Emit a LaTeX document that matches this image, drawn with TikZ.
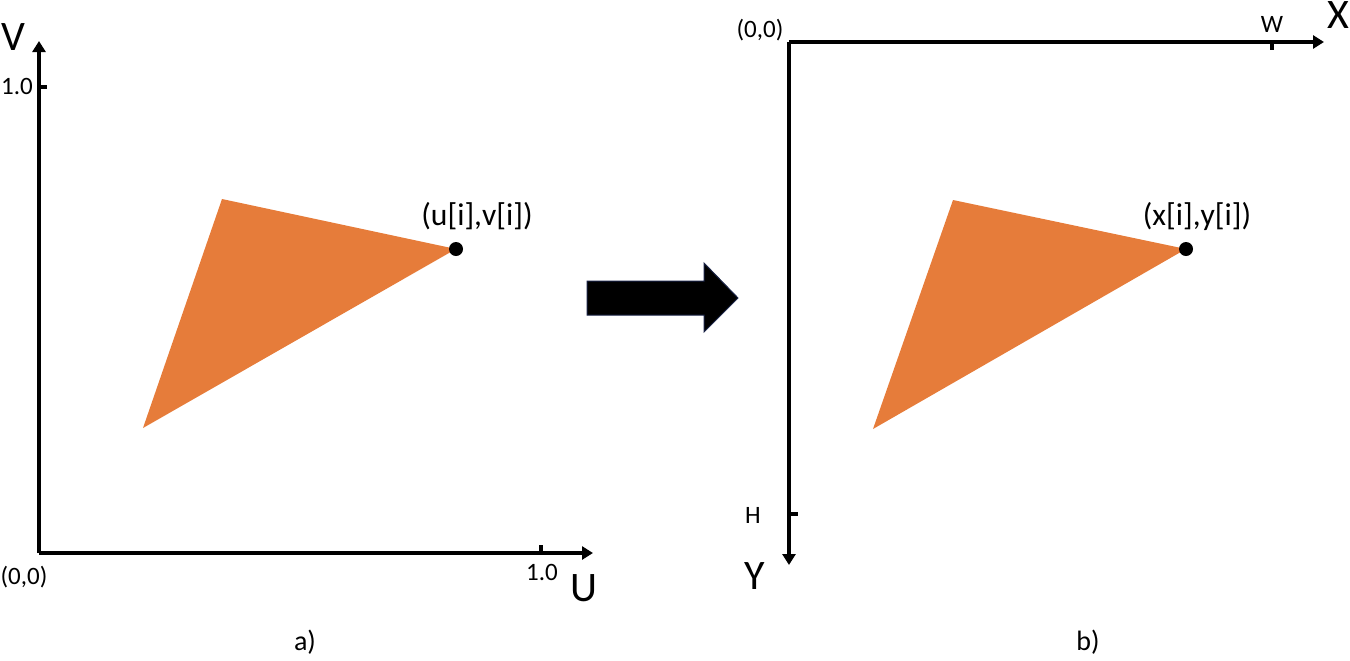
\documentclass[tikz,border=0pt]{standalone}
\usepackage{fontspec}
\setmainfont{Carlito}
\usepackage{tikz}
\usetikzlibrary{
  arrows.meta,
  positioning,
  calc
}
\usepackage{xcolor}
\definecolor{triOrange}{RGB}{230,124,58}
\definecolor{navyEdge}{RGB}{25,35,70}
\tikzset{
  axis/.style={
    line width=2pt,
    -{Triangle[length=5.5pt,width=6.5pt]}
  },
  tick/.style={
    line width=2pt
  },
  small label/.style={
    font=\fontsize{12.5}{13}\selectfont,
    inner sep=0pt
  },
  big label/.style={
    font=\fontsize{21}{22}\selectfont,
    inner sep=0pt
  },
  point label/.style={
    font=\fontsize{15.8}{17}\selectfont,
    inner sep=0pt
  },
  caption label/.style={
    font=\fontsize{14}{15}\selectfont,
    inner sep=0pt
  }
}

\begin{document}
\begin{tikzpicture}[
      x=0.5pt,
      y=-0.5pt
      ]
      \useasboundingbox (0,0) rectangle (1350,660);

      % a) texture space
      \coordinate (uvO) at (39,553);
      \coordinate (uEnd) at (593,553);
      \coordinate (vEnd) at (39,41);
      \coordinate (uTick) at (541,553);
      \coordinate (vTick) at (39,87);

      \fill[triOrange] (222,199) -- (456,249) -- (143,428) -- cycle;
      \draw[axis] (uvO) -- (uEnd);
      \draw[axis] (uvO) -- (vEnd);
      \draw[tick] (uTick) -- ++(0,-8);
      \draw[tick] (vTick) -- ++(8,0);
      \fill (456,249) circle (7) coordinate (uvP);

      \node[small label] (uvOrig) at (24,577) {(0,0)};
      \node[small label] (vOne) at (17,86) {1.0};
      \node[small label] (uOne) at (542,572) {1.0};
      \node[big label] (vName) at (13,37) {V};
      \node[big label] (uName) at (584,588) {U};
      \node[point label] (uvText) at (477,216) {(u[i],v[i])};
      \node[caption label] (capA) at (305,642) {a)};

      % mapping arrow
      \filldraw[fill=black, draw=navyEdge, line width=0.5pt]
      (587,281) -- (704,281) -- (704,263) -- (738,298)
      -- (704,332) -- (704,315) -- (587,315) -- cycle;

      % b) screen space
      \coordinate (xyO) at (789,42);
      \coordinate (xEnd) at (1324,42);
      \coordinate (yEnd) at (789,565);
      \coordinate (wTick) at (1272,42);
      \coordinate (hTick) at (789,514);

      \fill[triOrange] (953,200) -- (1186,249) -- (873,429) -- cycle;
      \draw[axis] (xyO) -- (xEnd);
      \draw[axis] (xyO) -- (yEnd);
      \draw[tick] (wTick) -- ++(0,8);
      \draw[tick] (hTick) -- ++(9,0);
      \fill (1186,249) circle (7) coordinate (xyP);

      \node[small label] (xyOrig) at (760,30) {(0,0)};
      \node[small label] (wText) at (1272,24) {W};
      \node[small label] (hText) at (753,515) {H};
      \node[big label] (xName) at (1338,15) {X};
      \node[big label] (yName) at (755,576) {Y};
      \node[point label] (xyText) at (1197,216) {(x[i],y[i])};
      \node[caption label] (capB) at (1088,642) {b)};
    \end{tikzpicture}
\end{document}
